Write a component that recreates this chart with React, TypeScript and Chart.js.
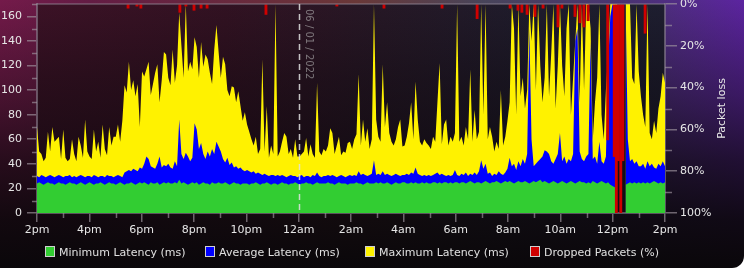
import React, { useEffect, useRef } from 'react';
import { Chart, registerables } from 'chart.js';

Chart.register(...registerables);

// ---- data (5-minute samples, 2pm -> 2pm, one row per hour) ----
const hourLabels = ['2pm', '4pm', '6pm', '8pm', '10pm', '12am', '2am', '4am', '6am', '8am', '10am', '12pm', '2pm'];
const seriesNames = ['Minimum Latency (ms)', 'Average Latency (ms)', 'Maximum Latency (ms)', 'Dropped Packets (%)'];
const dateLabel = '06 / 01 / 2022';
const dateLabelHour = 10;

const maxLatency: (number | null)[] = [
  70, 50, 48, 42, 45, 66, 50, 70, 58, 60, 62, 44,
  68, 45, 42, 44, 60, 48, 42, 62, 55, 45, 76, 50,
  46, 44, 68, 50, 58, 45, 72, 52, 47, 70, 55, 62,
  62, 72, 58, 75, 104, 98, 123, 100, 108, 95, 105, 70,
  115, 111, 117, 123, 96, 105, 114, 121, 90, 108, 131, 129,
  110, 104, 133, 106, 120, 163, 136, 110, 170, 115, 123, 117,
  143, 135, 110, 139, 119, 129, 125, 114, 105, 133, 153, 131,
  110, 127, 121, 100, 95, 103, 102, 90, 99, 87, 75, 82,
  72, 66, 60, 55, 62, 48, 52, 125, 50, 87, 45, 55,
  48, 170, 46, 50, 58, 65, 62, 48, 52, 45, 60, 46,
  46, 48, 50, 61, 46, 56, 48, 45, 106, 50, 47, 52,
  50, 55, 69, 65, 48, 55, 62, 47, 50, 49, 57, 58,
  52, 60, 64, 113, 55, 76, 58, 69, 52, 60, 170, 76,
  62, 58, 121, 70, 90, 65, 58, 55, 60, 70, 76, 54,
  55, 62, 73, 90, 60, 107, 76, 58, 55, 60, 57, 55,
  52, 62, 58, 90, 122, 56, 72, 76, 55, 62, 58, 65,
  170, 58, 62, 55, 70, 60, 117, 58, 84, 60, 66, 170,
  80, 170, 60, 70, 62, 50, 58, 52, 100, 55, 62, 75,
  90, 170, 150, 80, 170, 95, 110, 85, 100, 170, 140, 170,
  100, 170, 120, 90, 110, 170, 95, 130, 170, 85, 120, 170,
  120, 95, 150, 170, 80, 110, 140, 170, 90, 170, 100, 170,
  170, 150, 60, 90, 110, 170, 80, 60, 100, 130, 170, 170,
  170, 170, null, null, null, 170, 170, 170, 110, 105, 170, 115,
  95, 80, 70, 170, 65, 60, 75, 65, 85, 95, 114, 106,
];

const avgLatency: (number | null)[] = [
  30, 29, 31, 30, 29, 30, 31, 30, 29, 30, 31, 30,
  29, 30, 30, 31, 29, 30, 29, 30, 31, 30, 29, 30,
  30, 29, 31, 30, 29, 30, 30, 29, 31, 30, 30, 29,
  30, 31, 30, 29, 33, 34, 35, 34, 36, 35, 34, 37,
  36, 40, 46, 44, 38, 37, 36, 40, 46, 37, 39, 38,
  40, 37, 36, 42, 38, 76, 48, 44, 49, 46, 42, 45,
  73, 68, 52, 57, 48, 44, 50, 46, 52, 48, 58, 54,
  50, 44, 41, 45, 39, 41, 37, 38, 36, 37, 35, 34,
  35, 34, 33, 34, 32, 33, 32, 31, 32, 31, 30, 31,
  31, 30, 31, 30, 31, 30, 29, 30, 31, 30, 30, 29,
  30, 31, 29, 30, 30, 29, 31, 30, 33, 30, 29, 30,
  30, 31, 30, 31, 30, 29, 30, 31, 30, 29, 30, 31,
  30, 31, 30, 34, 31, 32, 31, 30, 31, 32, 43, 31,
  32, 31, 34, 31, 32, 31, 30, 31, 32, 31, 30, 31,
  31, 32, 31, 33, 32, 37, 32, 31, 30, 31, 30, 31,
  30, 31, 32, 33, 31, 32, 31, 30, 31, 30, 31, 35,
  31, 30, 32, 31, 33, 30, 32, 31, 33, 31, 34, 43,
  36, 40, 32, 33, 30, 32, 31, 34, 32, 31, 33, 36,
  45, 38, 40, 35, 42, 38, 44, 40, 48, 150, 60, 38,
  40, 42, 44, 46, 51, 50, 48, 42, 40, 44, 48, 65,
  42, 46, 40, 44, 42, 48, 140, 150, 50, 44, 42, 46,
  48, 140, 44, 46, 40, 58, 42, 40, 46, 120, 160, 170,
  165, 120, null, null, null, 170, 60, 42, 44, 40, 42, 38,
  38, 40, 36, 42, 38, 40, 37, 36, 40, 38, 42, 38,
];

const minLatency: (number | null)[] = [
  24, 25, 24, 23, 24, 25, 24, 24, 23, 24, 25, 24,
  24, 23, 24, 25, 24, 24, 23, 24, 25, 24, 23, 24,
  25, 24, 23, 24, 24, 25, 24, 23, 24, 25, 24, 24,
  23, 24, 25, 24, 23, 24, 24, 25, 24, 23, 24, 25,
  24, 25, 24, 23, 25, 24, 24, 25, 23, 24, 25, 24,
  25, 24, 24, 25, 24, 27, 24, 25, 24, 23, 24, 25,
  24, 25, 23, 24, 25, 24, 24, 23, 25, 24, 24, 25,
  24, 24, 25, 24, 23, 24, 25, 24, 24, 23, 24, 24,
  24, 23, 24, 24, 25, 24, 23, 24, 24, 25, 24, 23,
  24, 24, 23, 24, 25, 24, 24, 23, 24, 24, 25, 24,
  23, 24, 24, 25, 24, 24, 23, 24, 25, 24, 24, 24,
  24, 25, 24, 24, 23, 24, 25, 24, 24, 24, 23, 24,
  24, 24, 25, 24, 24, 23, 24, 25, 24, 24, 24, 25,
  24, 25, 24, 24, 25, 24, 23, 24, 25, 24, 24, 25,
  25, 24, 24, 25, 24, 25, 24, 24, 25, 24, 25, 24,
  24, 25, 25, 24, 25, 24, 25, 25, 24, 25, 24, 25,
  25, 24, 25, 25, 24, 25, 26, 25, 24, 25, 25, 24,
  25, 26, 25, 24, 25, 25, 26, 25, 24, 25, 26, 25,
  26, 25, 24, 25, 26, 25, 25, 26, 25, 24, 25, 26,
  25, 26, 27, 25, 26, 25, 24, 25, 26, 25, 24, 25,
  26, 25, 24, 25, 26, 25, 24, 25, 26, 25, 25, 24,
  25, 24, 26, 25, 24, 25, 26, 25, 24, 25, 23, 22,
  21, 22, null, null, null, 23, 24, 25, 24, 25, 24, 25,
  24, 25, 24, 25, 24, 25, 26, 25, 24, 25, 24, 25,
];

// dropped packets: hour offset from 2pm, percent lost
const droppedHours = [3.48, 3.82, 3.97, 5.46, 5.69, 6.0, 6.27, 6.5, 8.75, 11.46, 13.26, 15.48, 16.82, 18.08, 18.38, 18.53, 18.73, 19.03, 19.34, 19.91, 20.06, 20.56, 20.75, 20.9, 21.06, 21.81, 22.06, 22.14, 22.22, 22.31, 22.39, 23.24];
const droppedPct = [2, 1, 2, 4, 1, 3, 2, 2, 5, 1, 2, 2, 7, 2, 3, 4, 5, 6, 2, 11, 2, 6, 9, 11, 8, 65, 73, 100, 75, 100, 75, 14];

// ---- styling ----
const FONT = '"DejaVu Sans", "Liberation Sans", sans-serif';
const LABEL_COLOR = '#e6e6e6';
const TICK_COLOR = 'rgba(160,150,160,0.65)';
const AXIS_COLOR = 'rgba(140,130,145,0.6)';
const COLORS = ['#32cd32', '#0000ff', '#fff200', '#d00000'];

const sampleHours = maxLatency.map((_, i) => (i * 24) / (maxLatency.length - 1));
const toPoints = (arr: (number | null)[]) => arr.map((y, i) => ({ x: sampleHours[i], y }));

const decorPlugin = {
  id: 'decor',
  beforeDraw(chart: any) {
    const { ctx, chartArea: a } = chart;
    ctx.save();
    const gh = ctx.createLinearGradient(a.left, 0, a.right, 0);
    gh.addColorStop(0, '#3c1226');
    gh.addColorStop(0.3, '#321222');
    gh.addColorStop(0.55, '#261826');
    gh.addColorStop(0.8, '#1e1c2c');
    gh.addColorStop(1, '#1e1e30');
    ctx.fillStyle = gh;
    ctx.fillRect(a.left, a.top, a.right - a.left, a.bottom - a.top);
    const gv = ctx.createLinearGradient(0, a.top, 0, a.bottom);
    gv.addColorStop(0, 'rgba(10,6,10,0)');
    gv.addColorStop(0.35, 'rgba(10,6,10,0.35)');
    gv.addColorStop(0.7, 'rgba(10,6,10,0.6)');
    gv.addColorStop(1, 'rgba(10,6,10,0.75)');
    ctx.fillStyle = gv;
    ctx.fillRect(a.left, a.top, a.right - a.left, a.bottom - a.top);
    ctx.restore();
  },
  afterDraw(chart: any) {
    const { ctx, chartArea: a, scales } = chart;
    const xs = scales.x;
    const ys = scales.y;
    const y1 = scales.y1;
    const line = (x1: number, y1p: number, x2: number, y2: number) => {
      ctx.beginPath();
      ctx.moveTo(x1, y1p);
      ctx.lineTo(x2, y2);
      ctx.stroke();
    };
    ctx.save();
    ctx.strokeStyle = 'rgba(150,140,155,0.55)';
    ctx.lineWidth = 1.5;
    line(a.left, a.top, a.right, a.top);
    ctx.strokeStyle = TICK_COLOR;
    ctx.lineWidth = 1.5;
    for (let h = 1; h < 24; h += 2) {
      const px = Math.round(xs.getPixelForValue(h)) + 0.5;
      line(px, a.bottom, px, a.bottom + 5);
    }
    for (let v = 10; v <= 170; v += 20) {
      const py = Math.round(ys.getPixelForValue(v)) + 0.5;
      line(a.left - 5, py, a.left, py);
    }
    for (let p = 10; p <= 90; p += 20) {
      const py = Math.round(y1.getPixelForValue(p)) + 0.5;
      line(a.right, py, a.right + 7, py);
    }
    const dx = Math.round(xs.getPixelForValue(dateLabelHour)) + 0.5;
    ctx.setLineDash([6, 4]);
    ctx.strokeStyle = 'rgba(225,225,225,0.85)';
    ctx.lineWidth = 1.5;
    line(dx, a.top, dx, a.bottom);
    ctx.setLineDash([]);
    ctx.restore();

    ctx.save();
    ctx.translate(dx + 9, a.top + 5);
    ctx.rotate(Math.PI / 2);
    ctx.font = '10px ' + FONT;
    ctx.fillStyle = 'rgba(185,185,185,0.6)';
    ctx.textAlign = 'left';
    ctx.textBaseline = 'middle';
    ctx.fillText(dateLabel, 0, 0);
    ctx.restore();

    ctx.save();
    ctx.translate(y1.right - 21.5, (a.top + a.bottom) / 2);
    ctx.rotate(-Math.PI / 2);
    ctx.font = '11px ' + FONT;
    ctx.fillStyle = LABEL_COLOR;
    ctx.textAlign = 'center';
    ctx.textBaseline = 'middle';
    ctx.fillText('Packet loss', 0, 0);
    ctx.restore();
  },
};

const legendLefts = [45, 205, 365, 530];

const zeroPad = (s: any) => {
  s.paddingTop = 0;
  s.paddingBottom = 0;
};

export default function App() {
  const canvasRef = useRef<HTMLCanvasElement | null>(null);

  useEffect(() => {
    if (!canvasRef.current) return;
    const tickFont = { family: FONT, size: 11 };
    const chart = new Chart(canvasRef.current, {
      type: 'line',
      data: {
        datasets: [
          {
            type: 'bar',
            label: seriesNames[3],
            data: droppedHours.map((x, i) => ({ x, y: droppedPct[i] })),
            yAxisID: 'y1',
            backgroundColor: COLORS[3],
            borderWidth: 0,
            barThickness: 2.2,
          } as any,
          {
            label: seriesNames[0],
            data: toPoints(minLatency),
            yAxisID: 'y',
            fill: 'origin',
            backgroundColor: COLORS[0],
            borderColor: 'transparent',
            borderWidth: 0,
            pointRadius: 0,
            tension: 0,
            spanGaps: false,
          },
          {
            label: seriesNames[1],
            data: toPoints(avgLatency),
            yAxisID: 'y',
            fill: 'origin',
            backgroundColor: COLORS[1],
            borderColor: 'transparent',
            borderWidth: 0,
            pointRadius: 0,
            tension: 0,
            spanGaps: false,
          },
          {
            label: seriesNames[2],
            data: toPoints(maxLatency),
            yAxisID: 'y',
            fill: 'origin',
            backgroundColor: COLORS[2],
            borderColor: 'transparent',
            borderWidth: 0,
            pointRadius: 0,
            tension: 0,
            spanGaps: false,
          },
        ],
      },
      options: {
        responsive: false,
        maintainAspectRatio: false,
        animation: false,
        devicePixelRatio: 1,
        layout: { padding: { top: 4, left: 0, right: 0, bottom: 0 } },
        plugins: {
          legend: { display: false },
          tooltip: { enabled: false },
        },
        scales: {
          x: {
            type: 'linear',
            min: 0,
            max: 24,
            offset: false,
            position: 'bottom',
            ticks: {
              stepSize: 1,
              autoSkip: false,
              maxRotation: 0,
              padding: 2,
              color: LABEL_COLOR,
              font: tickFont,
              callback: (v: any) => (Number(v) % 2 === 0 ? hourLabels[Number(v) / 2] : ''),
            },
            grid: {
              offset: false,
              drawOnChartArea: false,
              tickLength: 9,
              lineWidth: 1.5,
              color: (c: any) => (c.tick && c.tick.value % 2 === 0 ? TICK_COLOR : 'transparent'),
            },
            border: { display: true, color: AXIS_COLOR, width: 2 },
            afterFit: (s: any) => {
              s.height = 55;
              s.paddingLeft = 0;
              s.paddingRight = 0;
            },
          },
          y: {
            type: 'linear',
            position: 'left',
            min: 0,
            max: 170,
            ticks: {
              stepSize: 10,
              padding: 5,
              color: LABEL_COLOR,
              font: tickFont,
              callback: (v: any) => (Number(v) % 20 === 0 ? String(v) : ''),
            },
            grid: {
              drawOnChartArea: false,
              tickLength: 10,
              lineWidth: 1.5,
              color: (c: any) => (c.tick && c.tick.value % 20 === 0 ? TICK_COLOR : 'transparent'),
            },
            border: { display: true, color: AXIS_COLOR, width: 2 },
            afterFit: (s: any) => {
              s.width = 37;
              zeroPad(s);
            },
          },
          y1: {
            type: 'linear',
            position: 'right',
            min: 0,
            max: 100,
            reverse: true,
            ticks: {
              stepSize: 10,
              padding: 3,
              color: LABEL_COLOR,
              font: tickFont,
              callback: (v: any) => (Number(v) % 20 === 0 ? v + '%' : ''),
            },
            grid: {
              drawOnChartArea: false,
              tickLength: 12,
              lineWidth: 1.5,
              color: (c: any) => (c.tick && c.tick.value % 20 === 0 ? TICK_COLOR : 'transparent'),
            },
            border: { display: true, color: AXIS_COLOR, width: 2 },
            afterFit: (s: any) => {
              s.width = 79;
              zeroPad(s);
            },
          },
        },
      } as any,
      plugins: [decorPlugin],
    });
    return () => chart.destroy();
  }, []);

  return (
    <div
      style={{
        position: 'absolute',
        left: 0,
        top: 0,
        width: 744,
        height: 268,
        overflow: 'hidden',
        borderBottomRightRadius: 12,
        background:
          'linear-gradient(to bottom, rgba(10,7,10,0) 0%, rgba(10,7,10,0.4) 35%, rgba(10,7,10,0.72) 60%, rgba(10,7,10,0.92) 82%, rgba(10,7,10,1) 100%),' +
          'linear-gradient(to right, #741a4a 0%, #641c44 12%, #6a2c3c 35%, #6a3838 48%, #48445a 65%, #4a3274 85%, #5c24a0 100%)',
        fontFamily: FONT,
      }}
    >
      <canvas ref={canvasRef} width={744} height={268} style={{ display: 'block' }} />
      {seriesNames.map((name, i) => (
        <div key={name}>
          <div
            style={{
              position: 'absolute',
              left: legendLefts[i],
              top: 246,
              width: 10,
              height: 11,
              boxSizing: 'border-box',
              border: '1px solid #cfcfcf',
              background: COLORS[i],
            }}
          />
          <div
            style={{
              position: 'absolute',
              left: legendLefts[i] + 14,
              top: 246,
              fontSize: 11,
              lineHeight: '13px',
              color: '#e0e0e0',
              whiteSpace: 'nowrap',
            }}
          >
            {name}
          </div>
        </div>
      ))}
    </div>
  );
}
